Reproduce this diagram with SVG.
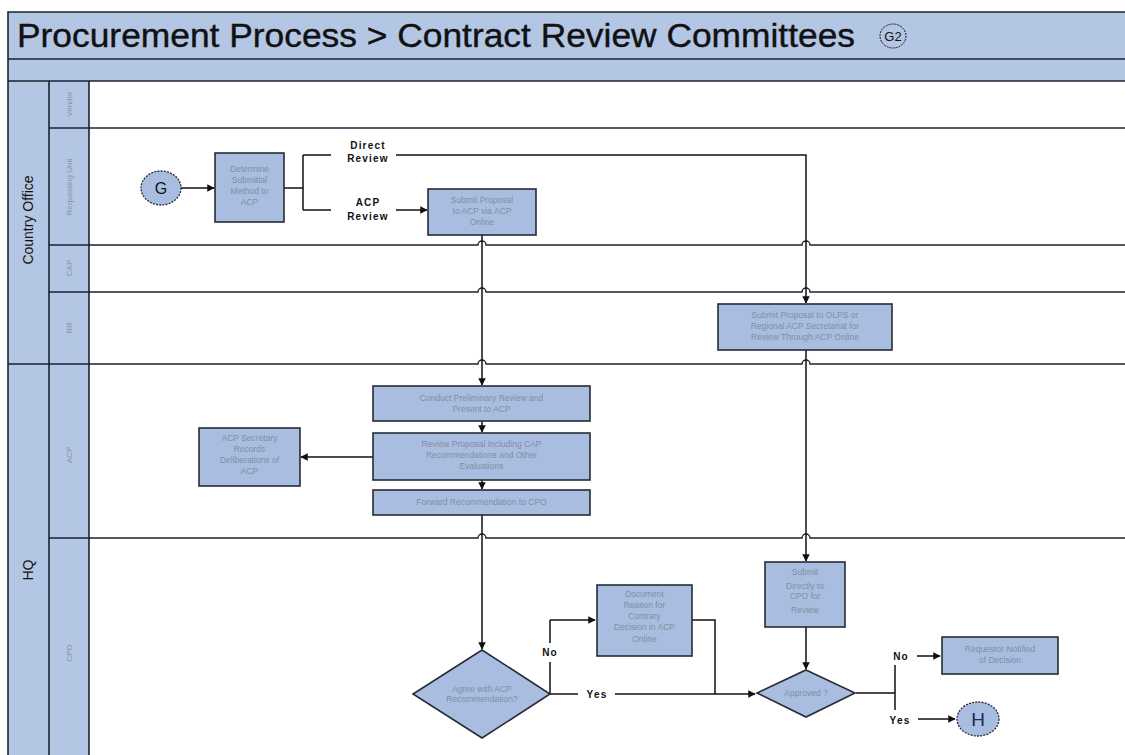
<svg xmlns="http://www.w3.org/2000/svg" width="1125" height="755" viewBox="0 0 1125 755">
  <style>
    .band { fill: #b3c6e4; }
    .frame { fill: none; stroke: #1c2230; stroke-width: 1.6; }
    .lane { fill: none; stroke: #1c2230; stroke-width: 1.4; }
    .box { fill: #a9bde0; stroke: #262b36; stroke-width: 1.6; }
    .term { fill: #a9bde0; stroke: #262b36; stroke-width: 1.3; stroke-dasharray: 2 1.2; }
    .wire { fill: none; stroke: #111; stroke-width: 1.5; }
    .arrow { fill: none; stroke: #111; stroke-width: 1.5; marker-end: url(#head); }
    .t { font-family: "Liberation Sans", Arial, sans-serif; font-size: 8.5px; fill: #818ea3; text-anchor: middle; }
    .lbl { font-family: "Liberation Sans", Arial, sans-serif; font-size: 10px; font-weight: bold; fill: #111; text-anchor: middle; letter-spacing: 1.2px; }
    .lanelbl { font-family: "Liberation Sans", Arial, sans-serif; font-size: 8px; fill: #8793a6; text-anchor: middle; }
    .grp { font-family: "Liberation Sans", Arial, sans-serif; font-size: 14px; fill: #111; text-anchor: middle; }
  </style>
  <defs>
    <marker id="head" viewBox="0 0 10 10" refX="9" refY="5" markerWidth="5" markerHeight="5" orient="auto" markerUnits="strokeWidth">
      <path d="M0,0 L10,5 L0,10 z" fill="#111"/>
    </marker>
  </defs>

  <rect width="1125" height="755" fill="#ffffff"/>

  <!-- pool header and lane label columns -->
  <g id="pool">
    <rect class="band" x="8" y="12" width="1125" height="69"/>
    <rect class="band" x="8" y="81" width="81" height="680"/>
    <text x="17" y="47" font-family="Liberation Sans, Arial, sans-serif" font-size="34" fill="#111" stroke="#111" stroke-width="0.4" textLength="838" lengthAdjust="spacingAndGlyphs">Procurement Process &gt; Contract Review Committees</text>
    <ellipse cx="893" cy="36" rx="13" ry="12" fill="none" stroke="#111" stroke-width="1" stroke-dasharray="2 1"/>
    <text x="893" y="41" font-family="Liberation Sans, Arial, sans-serif" font-size="13" fill="#111" text-anchor="middle">G2</text>
    <path class="frame" d="M1130,12 H8 V760 M8,59 H1130 M8,81 H1130 M49,81 V760 M89,81 V760"/>
  </g>

  <!-- lane separators with line jumps where connectors cross -->
  <g id="lanes">
    <path class="lane" d="M49,128 H1130"/>
    <path class="lane" d="M49,245 H478 A4 4 0 0 1 486 245 H802 A4 4 0 0 1 810 245 H1130"/>
    <path class="lane" d="M49,292 H478 A4 4 0 0 1 486 292 H802 A4 4 0 0 1 810 292 H1130"/>
    <path class="lane" d="M8,364 H478 A4 4 0 0 1 486 364 H802 A4 4 0 0 1 810 364 H1130"/>
    <path class="lane" d="M49,538 H478 A4 4 0 0 1 486 538 H802 A4 4 0 0 1 810 538 H1130"/>
    <text class="grp" transform="translate(33,220) rotate(-90)">Country Office</text>
    <text class="grp" transform="translate(33,570) rotate(-90)">HQ</text>
    <text class="lanelbl" transform="translate(72,104) rotate(-90)">Vendor</text>
    <text class="lanelbl" transform="translate(72,187) rotate(-90)">Requesting Unit</text>
    <text class="lanelbl" transform="translate(72,268) rotate(-90)">CAP</text>
    <text class="lanelbl" transform="translate(72,328) rotate(-90)">RR</text>
    <text class="lanelbl" transform="translate(72,455) rotate(-90)">ACP</text>
    <text class="lanelbl" transform="translate(72,653) rotate(-90)">CPO</text>
  </g>

  <!-- connectors -->
  <g id="connectors">
    <path class="arrow" d="M181,188 H214"/>
    <path class="wire" d="M284,188 H303 M303,155 V210 M303,155 H331 M303,210 H331"/>
    <path class="arrow" d="M396,155 H806 V303"/>
    <path class="arrow" d="M396,210 H427"/>
    <path class="arrow" d="M482,235 V385"/>
    <path class="arrow" d="M482,421 V432"/>
    <path class="arrow" d="M482,480 V489"/>
    <path class="arrow" d="M482,515 V649"/>
    <path class="arrow" d="M373,457 H301"/>
    <path class="arrow" d="M806,350 V561"/>
    <path class="arrow" d="M806,627 V669"/>
    <path class="wire" d="M550,694 H578 M615,694 H715"/>
    <path class="arrow" d="M715,694 H755"/>
    <path class="wire" d="M550,694 V662 M550,643 V620"/>
    <path class="arrow" d="M550,620 H595"/>
    <path class="wire" d="M692,620 H715 V694"/>
    <path class="wire" d="M856,693 H895 M895,665 V710"/>
    <path class="arrow" d="M917,656 H940"/>
    <path class="arrow" d="M918,719 H955"/>
    <text class="lbl" x="368" y="149">Direct</text>
    <text class="lbl" x="368" y="162">Review</text>
    <text class="lbl" x="368" y="206">ACP</text>
    <text class="lbl" x="368" y="220">Review</text>
    <text class="lbl" x="550" y="656" letter-spacing="1">No</text>
    <text class="lbl" x="597" y="698">Yes</text>
    <text class="lbl" x="901" y="660">No</text>
    <text class="lbl" x="900" y="724" letter-spacing="0.5">Yes</text>
  </g>

  <g id="start-g">
    <ellipse class="term" cx="161" cy="188" rx="20" ry="17"/>
    <text x="161" y="194" font-family="Liberation Sans, Arial, sans-serif" font-size="16" fill="#111" text-anchor="middle">G</text>
  </g>

  <g id="determine-method">
    <rect class="box" x="215" y="153" width="69" height="69"/>
    <text class="t" x="249.5" y="172">Determine</text>
    <text class="t" x="249.5" y="183">Submittal</text>
    <text class="t" x="249.5" y="194">Method to</text>
    <text class="t" x="249.5" y="205">ACP</text>
  </g>

  <g id="submit-acp-online">
    <rect class="box" x="428" y="189" width="108" height="46"/>
    <text class="t" x="482" y="203">Submit Proposal</text>
    <text class="t" x="482" y="214">to ACP via ACP</text>
    <text class="t" x="482" y="225">Online</text>
  </g>

  <g id="submit-olps">
    <rect class="box" x="718" y="304" width="174" height="46"/>
    <text class="t" x="805" y="318">Submit Proposal to OLPS or</text>
    <text class="t" x="805" y="329">Regional ACP Secretariat for</text>
    <text class="t" x="805" y="340">Review Through ACP Online</text>
  </g>

  <g id="preliminary-review">
    <rect class="box" x="373" y="386" width="217" height="35"/>
    <text class="t" x="481.5" y="401">Conduct Preliminary Review and</text>
    <text class="t" x="481.5" y="412">Present to ACP</text>
  </g>

  <g id="review-proposal">
    <rect class="box" x="373" y="433" width="217" height="47"/>
    <text class="t" x="481.5" y="447">Review Proposal Including CAP</text>
    <text class="t" x="481.5" y="458">Recommendations and Other</text>
    <text class="t" x="481.5" y="469">Evaluations</text>
  </g>

  <g id="forward-cpo">
    <rect class="box" x="373" y="490" width="217" height="25"/>
    <text class="t" x="481.5" y="505">Forward Recommendation to CPO</text>
  </g>

  <g id="acp-secretary">
    <rect class="box" x="199" y="428" width="101" height="58"/>
    <text class="t" x="249.5" y="441">ACP Secretary</text>
    <text class="t" x="249.5" y="452">Records</text>
    <text class="t" x="249.5" y="463">Deliberations of</text>
    <text class="t" x="249.5" y="474">ACP</text>
  </g>

  <g id="agree-decision">
    <path class="box" d="M482,650 L550,694 L482,738 L413,694 Z"/>
    <text class="t" x="482" y="692">Agree with ACP</text>
    <text class="t" x="482" y="702">Recommendation?</text>
  </g>

  <g id="document-reason">
    <rect class="box" x="597" y="585" width="95" height="71"/>
    <text class="t" x="644.5" y="597">Document</text>
    <text class="t" x="644.5" y="608">Reason for</text>
    <text class="t" x="644.5" y="619">Contrary</text>
    <text class="t" x="644.5" y="630">Decision in ACP</text>
    <text class="t" x="644.5" y="642">Online</text>
  </g>

  <g id="submit-directly">
    <rect class="box" x="765" y="562" width="80" height="65"/>
    <text class="t" x="805" y="575">Submit</text>
    <text class="t" x="805" y="589">Directly to</text>
    <text class="t" x="805" y="599">CPO for</text>
    <text class="t" x="805" y="613">Review</text>
  </g>

  <g id="approved-decision">
    <path class="box" d="M806,670 L855,693 L806,717 L757,693 Z"/>
    <text class="t" x="806" y="696">Approved ?</text>
  </g>

  <g id="requestor-notified">
    <rect class="box" x="942" y="637" width="116" height="37"/>
    <text class="t" x="1000" y="652">Requestor Notified</text>
    <text class="t" x="1000" y="663">of Decision</text>
  </g>

  <g id="end-h">
    <ellipse class="term" cx="978" cy="719" rx="21" ry="17"/>
    <text x="978" y="726" font-family="Liberation Sans, Arial, sans-serif" font-size="19" fill="#1a2a5a" text-anchor="middle">H</text>
  </g>
</svg>
